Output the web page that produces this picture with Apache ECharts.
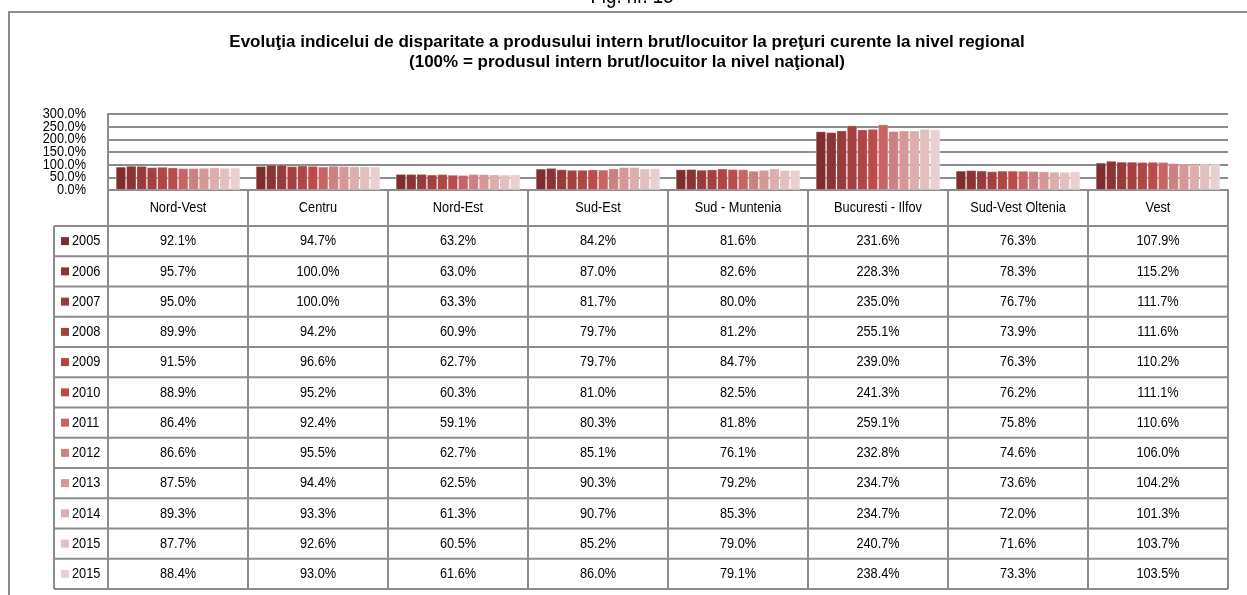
<!DOCTYPE html>
<html>
<head>
<meta charset="utf-8">
<script src="https://cdn.jsdelivr.net/npm/echarts@6/dist/echarts.min.js"></script>
<style>
  html, body { margin: 0; padding: 0; background: #fff; }
  #main { width: 1247px; height: 595px; }
</style>
</head>
<body>
<div id="main"></div>
<script>
const regions = ['Nord-Vest', 'Centru', 'Nord-Est', 'Sud-Est', 'Sud - Muntenia', 'Bucuresti - Ilfov', 'Sud-Vest Oltenia', 'Vest'];
const years = ['2005', '2006', '2007', '2008', '2009', '2010', '2011', '2012', '2013', '2014', '2015', '2015'];
const yTicks = [0, 50, 100, 150, 200, 250, 300];

const v2005 = [92.1, 94.7, 63.2, 84.2, 81.6, 231.6, 76.3, 107.9];
const v2006 = [95.7, 100.0, 63.0, 87.0, 82.6, 228.3, 78.3, 115.2];
const v2007 = [95.0, 100.0, 63.3, 81.7, 80.0, 235.0, 76.7, 111.7];
const v2008 = [89.9, 94.2, 60.9, 79.7, 81.2, 255.1, 73.9, 111.6];
const v2009 = [91.5, 96.6, 62.7, 79.7, 84.7, 239.0, 76.3, 110.2];
const v2010 = [88.9, 95.2, 60.3, 81.0, 82.5, 241.3, 76.2, 111.1];
const v2011 = [86.4, 92.4, 59.1, 80.3, 81.8, 259.1, 75.8, 110.6];
const v2012 = [86.6, 95.5, 62.7, 85.1, 76.1, 232.8, 74.6, 106.0];
const v2013 = [87.5, 94.4, 62.5, 90.3, 79.2, 234.7, 73.6, 104.2];
const v2014 = [89.3, 93.3, 61.3, 90.7, 85.3, 234.7, 72.0, 101.3];
const v2015 = [87.7, 92.6, 60.5, 85.2, 79.0, 240.7, 71.6, 103.7];
const v2015b = [88.4, 93.0, 61.6, 86.0, 79.1, 238.4, 73.3, 103.5];
const seriesValues = [v2005, v2006, v2007, v2008, v2009, v2010, v2011, v2012, v2013, v2014, v2015, v2015b];

const colors = ['#7e2e2f', '#8c3334', '#9a3a3a', '#a54041', '#af4545', '#bc4c4c',
                '#c86564', '#ce7f7f', '#d59797', '#dcaeae', '#e2c0c0', '#e9d0d0'];

const font = "'Liberation Sans', Arial, sans-serif";
const gray = '#8c8c8c';
const narrow = 0.85; // reference uses a narrow face, squeeze the text

// plot area + table geometry
const plotLeft = 108, plotTop = 114, plotW = 1120, plotH = 76;
const tableBottom = 589, headerBottom = 226, legendLeft = 54;
const rowH = (tableBottom - headerBottom) / years.length;

let myChart = echarts.init(document.getElementById('main'));

let option = {
    animation: false,
    backgroundColor: '#fff',
    grid: { left: plotLeft, top: plotTop, width: plotW, height: plotH },
    xAxis: {
        type: 'category',
        data: regions,
        axisLine: { lineStyle: { color: gray, width: 2 } },
        axisTick: { show: true, length: tableBottom - plotTop - plotH, lineStyle: { color: gray, width: 2 } },
        axisLabel: { show: false }
    },
    yAxis: {
        type: 'value',
        min: 0,
        max: 300,
        interval: 50,
        axisLine: { show: true, lineStyle: { color: gray, width: 2 } },
        axisTick: { show: false },
        splitLine: { lineStyle: { color: gray, width: 2 } },
        // labels overlap in the original, so they are placed by hand below
        axisLabel: { show: false }
    },
    series: seriesValues.map((vals, i) => ({
        type: 'bar',
        name: years[i],
        data: vals,
        barGap: '0%',
        barCategoryGap: '11%',
        silent: true,
        itemStyle: { color: colors[i], borderColor: 'rgba(255,255,255,0.25)', borderWidth: 1 }
    }))
};
myChart.setOption(option);

function cellText(x, y, text, align) {
    return {
        type: 'text', x: x, y: y, scaleX: narrow,
        style: { text: text, align: align || 'center', verticalAlign: 'middle', font: '15px ' + font, fill: '#000' }
    };
}

// titles, y labels and the data table under the plot
function buildTable() {
    let els = [];
    els.push({
        type: 'rect', shape: { x: 9, y: 12, width: 1400, height: 800 },
        style: { fill: 'none', stroke: gray, lineWidth: 2 }
    });
    els.push({
        type: 'text', x: 632, y: 8, scaleX: narrow,
        style: { text: 'Fig. nr. 15', align: 'center', verticalAlign: 'bottom', font: '22px ' + font, fill: '#000' }
    });
    els.push({
        type: 'text', x: 627, y: 42,
        style: { text: 'Evoluţia indicelui de disparitate a produsului intern brut/locuitor la preţuri curente la nivel regional',
                 align: 'center', verticalAlign: 'middle', font: 'bold 17px ' + font, fill: '#000' }
    });
    els.push({
        type: 'text', x: 627, y: 62,
        style: { text: '(100% = produsul intern brut/locuitor la nivel naţional)',
                 align: 'center', verticalAlign: 'middle', font: 'bold 17px ' + font, fill: '#000' }
    });

    yTicks.forEach(t => {
        let py = myChart.convertToPixel({ yAxisIndex: 0 }, t);
        els.push(cellText(plotLeft - 22, py, t.toFixed(1) + '%', 'right'));
    });

    const right = plotLeft + plotW;
    for (let k = 0; k <= years.length; k++) {
        let y = headerBottom + k * rowH;
        els.push({ type: 'line', shape: { x1: legendLeft, y1: y, x2: right, y2: y }, style: { stroke: gray, lineWidth: 2 } });
    }
    els.push({ type: 'line', shape: { x1: legendLeft, y1: headerBottom, x2: legendLeft, y2: tableBottom }, style: { stroke: gray, lineWidth: 2 } });

    let colX = regions.map((r, j) => myChart.convertToPixel({ xAxisIndex: 0 }, j));
    let headerY = (plotTop + plotH + headerBottom) / 2;
    regions.forEach((r, j) => els.push(cellText(colX[j], headerY, r)));

    years.forEach((yr, i) => {
        let cy = headerBottom + (i + 0.5) * rowH;
        els.push({ type: 'rect', shape: { x: 61, y: cy - 4, width: 8, height: 8 }, style: { fill: colors[i] } });
        els.push(cellText(72, cy, yr, 'left'));
        seriesValues[i].forEach((v, j) => els.push(cellText(colX[j], cy, v.toFixed(1) + '%')));
    });
    myChart.setOption({ graphic: els });
}
buildTable();

window.onresize = function () {
    myChart.resize();
    buildTable();
};
</script>
</body>
</html>
